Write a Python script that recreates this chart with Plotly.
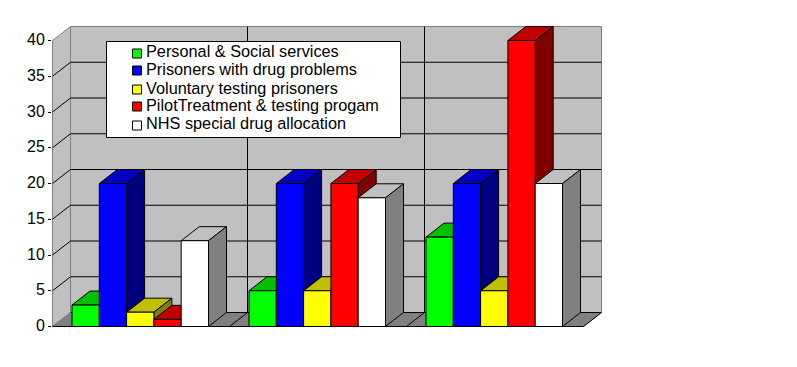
import plotly.graph_objects as go

categories = ["Group 1", "Group 2", "Group 3"]
series_names = ["Personal & Social services", "Prisoners with drug problems",
                "Voluntary testing prisoners", "PilotTreatment & testing progam",
                "NHS special drug allocation"]
personal_social = [3, 5, 12.5]
drug_problems = [20, 20, 20]
voluntary_testing = [2, 5, 5]
pilot_treatment = [1, 20, 40]
nhs_allocation = [12, 18, 20]
series_values = [personal_social, drug_problems, voluntary_testing, pilot_treatment, nhs_allocation]
y_ticks = [0, 5, 10, 15, 20, 25, 30, 35, 40]

front_colors = ["#00FF00", "#0000FF", "#FFFF00", "#FF0000", "#FFFFFF"]
top_colors = ["#00C000", "#0000C0", "#C0C000", "#C00000", "#C0C0C0"]
side_colors = ["#008000", "#000080", "#808000", "#800000", "#808080"]

# scale: pixels per category and per value unit, 3D depth expressed in data units
PX_CAT, PX_VAL = 177.0, 7.15
X0, Y0 = 52.5, 326.5
DX, DY = 18.0 / PX_CAT, 14.0 / PX_VAL
GAP, BAR_W = 19.5 / PX_CAT, 27.3 / PX_CAT
TOP = 40
N = len(categories)
L, R, T, B = 52, 190, 20, 35
W, H = 797, 367


def px_x(p):
    return (p - X0) / PX_CAT


def px_y(p):
    return (Y0 - p) / PX_VAL


fig = go.Figure()


def poly(xs, ys, fill=None, line="#000000"):
    fig.add_trace(go.Scatter(
        x=list(xs), y=list(ys), mode="lines",
        fill="toself" if fill else None, fillcolor=fill,
        line=dict(color=line, width=1), hoverinfo="skip", showlegend=False, cliponaxis=False))


# walls
poly([0, DX, DX, 0, 0], [0, DY, TOP + DY, TOP, 0], "#C0C0C0", "#808080")
poly([DX, N + DX, N + DX, DX, DX], [DY, DY, TOP + DY, TOP + DY, DY], "#C0C0C0", "#808080")
poly([0, N, N + DX, DX, 0], [0, 0, DY, DY, 0], "#808080", "#808080")

# gridlines
for v in y_ticks[1:-1]:
    poly([0, DX, N + DX], [v, v + DY, v + DY])
for c in range(1, N):
    poly([c, c + DX, c + DX], [0, DY, TOP + DY])
poly([DX, N + DX], [DY, DY])
poly([0, N], [0, 0])
poly([N, N + DX], [0, DY])

# bars, painted from left to right
for c in range(N):
    for s, vals in enumerate(series_values):
        v = vals[c]
        x0 = c + GAP + s * BAR_W
        x1 = x0 + BAR_W
        poly([x0, x1, x1 + DX, x0 + DX, x0], [v, v, v + DY, v + DY, v], top_colors[s])
        poly([x1, x1 + DX, x1 + DX, x1, x1], [0, DY, v + DY, v, 0], side_colors[s])
        poly([x0, x1, x1, x0, x0], [0, 0, v, v, 0], front_colors[s])

# legend box drawn in the chart's coordinates
shapes = [dict(type="rect", layer="above", x0=px_x(106.5), x1=px_x(400.5), y0=px_y(41.5), y1=px_y(137.5),
               fillcolor="#FFFFFF", line=dict(color="#000000", width=1))]
annotations = []
swatch_y = [53.5, 70.5, 89.5, 106.5, 125.5]
text_y = [51, 69, 88, 105, 123]
for name, col, sy, ty in zip(series_names, front_colors, swatch_y, text_y):
    shapes.append(dict(type="rect", layer="above", x0=px_x(132.5), x1=px_x(141.5),
                       y0=px_y(sy - 4.5), y1=px_y(sy + 4.5),
                       fillcolor=col, line=dict(color="#000000", width=1)))
    annotations.append(dict(x=px_x(146), y=px_y(ty), text=name, showarrow=False, xanchor="left",
                            yanchor="middle", xshift=-2, font=dict(size=16.3, color="#000000")))

fig.update_layout(
    width=W, height=H, autosize=False,
    margin=dict(l=L, r=R, t=T, b=B, pad=0),
    paper_bgcolor="#FFFFFF", plot_bgcolor="#FFFFFF",
    font=dict(family="Liberation Sans, Arial, sans-serif", color="#000000"),
    shapes=shapes, annotations=annotations, showlegend=False,
    xaxis=dict(range=[(L - X0) / PX_CAT, (W - R - X0) / PX_CAT], showgrid=False, zeroline=False,
               showticklabels=False, ticks="", fixedrange=True),
    yaxis=dict(range=[(Y0 - (H - B)) / PX_VAL, (Y0 - T) / PX_VAL], showgrid=False, zeroline=False,
               tickmode="array", tickvals=y_ticks, ticktext=[str(t) for t in y_ticks],
               ticks="outside", ticklen=3, tickcolor="#000000", tickwidth=1,
               tickfont=dict(size=16), ticklabelshift=-1, fixedrange=True),
)
fig.write_html("out.html", config={"displayModeBar": False},
               post_script="document.body.style.margin='0';document.documentElement.style.overflow='hidden';")
